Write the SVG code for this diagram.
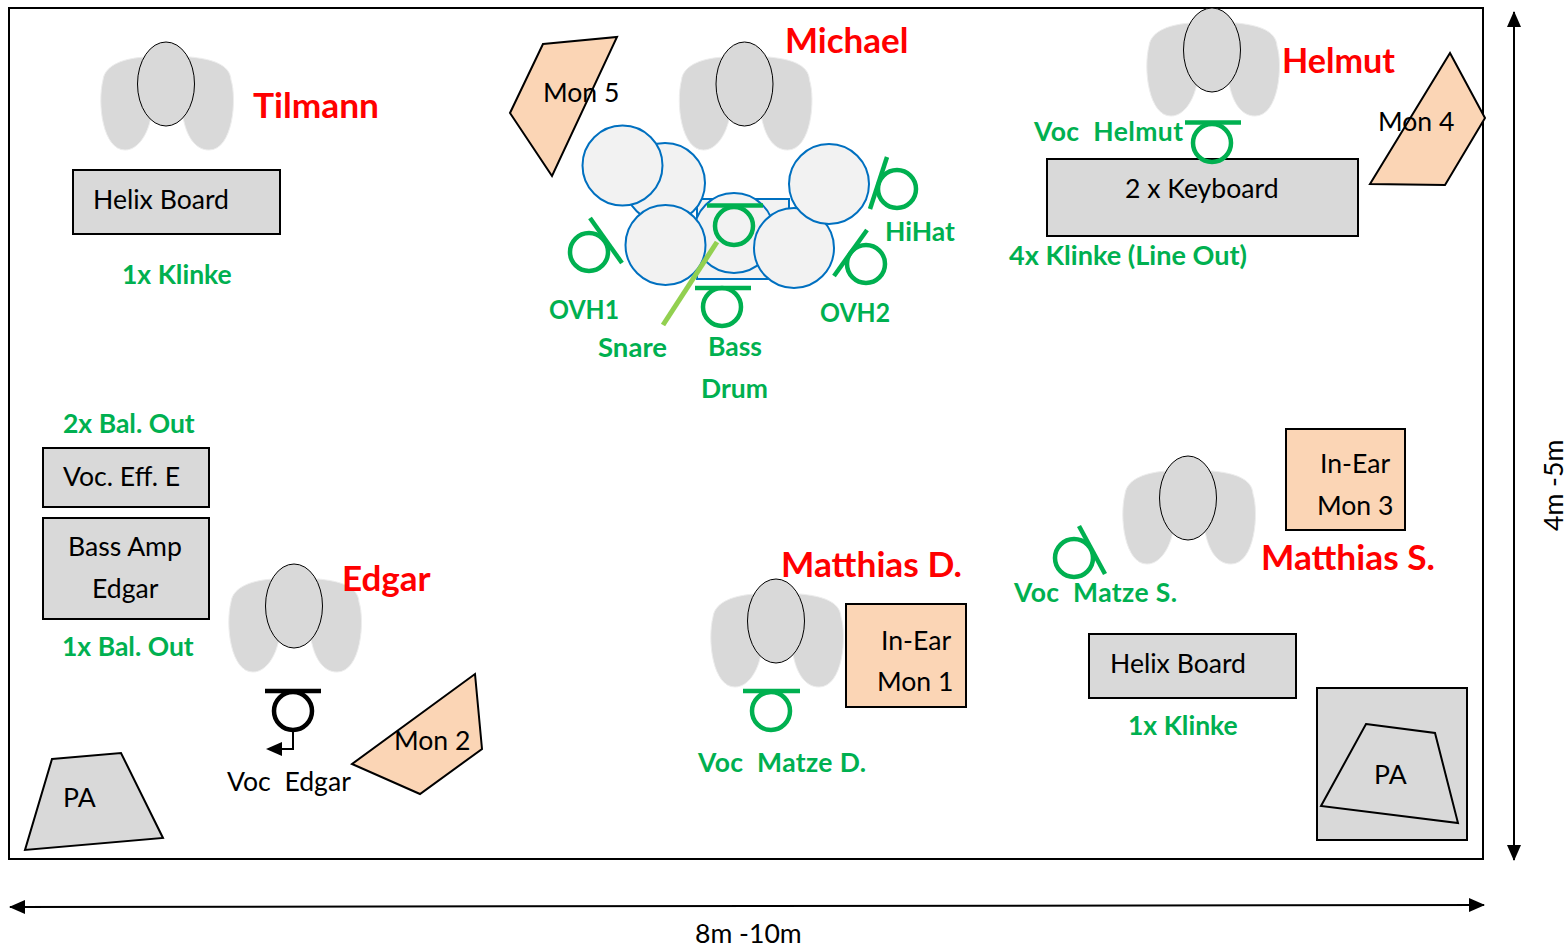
<svg xmlns="http://www.w3.org/2000/svg" width="1568" height="950" viewBox="0 0 1568 950">
<style>
text{font-family:"Lato","Liberation Sans",sans-serif;white-space:pre}
.t{font-size:26.6px;fill:#000}
.g{font-size:26.5px;font-weight:700;fill:#00B050}
.r{font-size:35px;font-weight:700;fill:#FF0000}
.box{fill:#D9D9D9;stroke:#000;stroke-width:2}
.mon{fill:#FBD5B5;stroke:#000;stroke-width:2}
.head{fill:#D9D9D9;stroke:#000;stroke-width:1}
.body{fill:#D9D9D9;stroke:#EDEDED;stroke-width:1}
.mic{fill:none;stroke:#00B050;stroke-width:4.5}
.micb{fill:none;stroke:#000;stroke-width:4.5}
.drum{fill:#F2F2F2;stroke:#0070C0;stroke-width:2}
.dim{fill:none;stroke:#000;stroke-width:2}
</style>
<defs>
<g id="person">
<path class="body" d="M-63-4C-61-20-40-26-20-27L24-27C45-25 64-20 65-4C71 15 67 66 43 66C28 66 20 50 17 33L-15 33C-18 50-28 66-41 66C-63 66-69 20-63-4Z"/>
<ellipse class="head" cx="0" cy="0" rx="28.500" ry="42"/>
</g>
<marker id="ah" markerUnits="userSpaceOnUse" markerWidth="16" markerHeight="14" refX="15" refY="7" orient="auto-start-reverse"><path d="M0 0L16 7L0 14Z" fill="#000"/></marker>
</defs>
<rect id="stage" x="9" y="8" width="1474" height="851" fill="#fff" stroke="#000" stroke-width="2"/>
<g id="tilmann"><use href="#person" x="166" y="84"/><text class="r" x="253" y="118" textLength="126" lengthAdjust="spacingAndGlyphs">Tilmann</text></g>
<g id="helix-board-1"><rect class="box" x="73" y="170" width="207" height="64"/><text class="t" x="93" y="209">Helix Board</text><text class="g" x="122" y="284">1x Klinke</text></g>
<g id="michael"><use href="#person" x="744.500" y="84"/><text class="r" x="785" y="53">Michael</text></g>
<g id="mon5"><polygon class="mon" points="543,44 617,37 552,176 510,113"/><text class="t" x="543" y="102">Mon 5</text></g>
<g id="drums">
<rect class="drum" x="697" y="199" width="92" height="80"/>
<circle class="drum" cx="665" cy="183" r="40"/>
<circle class="drum" cx="622.500" cy="165.500" r="40"/>
<circle class="drum" cx="734" cy="233" r="40"/>
<circle class="drum" cx="665.500" cy="245" r="40"/>
<circle class="drum" cx="794" cy="248" r="40"/>
<circle class="drum" cx="829" cy="184" r="40"/>
</g>
<g id="mic-ovh1"><path class="mic" d="M590 218L622 263"/><circle class="mic" cx="589" cy="252" r="19"/><text class="g" x="549" y="319" textLength="70" lengthAdjust="spacingAndGlyphs">OVH1</text></g>
<g id="mic-hihat"><path class="mic" d="M887 157L870 209"/><circle class="mic" cx="897" cy="189" r="19"/><text class="g" x="885" y="241">HiHat</text></g>
<g id="mic-ovh2"><path class="mic" d="M867 230L834 276"/><circle class="mic" cx="866" cy="264" r="19"/><text class="g" x="820" y="322" textLength="70" lengthAdjust="spacingAndGlyphs">OVH2</text></g>
<g id="mic-tom"><path class="mic" d="M707 205.500L763 205.500"/><circle class="mic" cx="734" cy="226" r="19"/></g>
<g id="mic-snare"><path d="M717 242L663 325" fill="none" stroke="#92D050" stroke-width="5"/><text class="g" x="598" y="357" textLength="69" lengthAdjust="spacingAndGlyphs">Snare</text></g>
<g id="mic-bass"><path class="mic" d="M695 288L751 288"/><circle class="mic" cx="722" cy="307" r="19"/><text class="g" x="708" y="356">Bass</text><text class="g" x="701" y="398">Drum</text></g>
<g id="helmut"><use href="#person" x="1212" y="50"/><text class="r" x="1282" y="73" textLength="113" lengthAdjust="spacingAndGlyphs">Helmut</text></g>
<g id="keyboard"><rect class="box" x="1047" y="159" width="311" height="77"/><text class="t" x="1125" y="198">2 x Keyboard</text><text class="g" x="1009" y="265" textLength="238" lengthAdjust="spacingAndGlyphs">4x Klinke (Line Out)</text></g>
<g id="mic-helmut"><path class="mic" d="M1185 122.500L1241 122.500"/><circle class="mic" cx="1212" cy="143" r="19"/><text class="g" x="1034" y="141" textLength="149" lengthAdjust="spacing">Voc  Helmut</text></g>
<g id="mon4"><polygon class="mon" points="1450,53 1485,118 1445,185 1370,184"/><text class="t" x="1378" y="131">Mon 4</text></g>
<g id="voc-eff"><rect class="box" x="43" y="448" width="166" height="59"/><text class="t" x="63" y="486">Voc. Eff. E</text><text class="g" x="63" y="433">2x Bal. Out</text></g>
<g id="bass-amp"><rect class="box" x="43" y="518" width="166" height="101"/><text class="t" x="68" y="556">Bass Amp</text><text class="t" x="92" y="598">Edgar</text><text class="g" x="62" y="656">1x Bal. Out</text></g>
<g id="edgar"><use href="#person" x="294" y="606"/><text class="r" x="342" y="591">Edgar</text></g>
<g id="mic-edgar"><path class="micb" d="M265 691L321 691"/><circle class="micb" cx="293" cy="711" r="19"/><text class="t" x="227" y="791">Voc  Edgar</text></g>
<g id="mon2"><polygon class="mon" points="475,674 482,749 420,794 352,764"/><text class="t" x="394" y="750">Mon 2</text></g>
<g id="pa-left"><polygon class="box" points="52,759 121,753 163,838 25,850"/><text class="t" x="63" y="807">PA</text></g>
<g id="matthias-d"><use href="#person" x="776" y="621"/><text class="r" x="781" y="577" textLength="181" lengthAdjust="spacingAndGlyphs">Matthias D.</text></g>
<g id="mon1"><rect class="mon" x="846" y="604" width="120" height="103"/><text class="t" x="881" y="650">In-Ear</text><text class="t" x="877" y="691">Mon 1</text></g>
<g id="mic-matze-d"><path class="mic" d="M743 691L800 691"/><circle class="mic" cx="771" cy="711" r="19"/><text class="g" x="698" y="772" textLength="168" lengthAdjust="spacing">Voc  Matze D.</text></g>
<g id="matthias-s"><use href="#person" x="1188" y="498"/><text class="r" x="1261" y="570" textLength="174" lengthAdjust="spacingAndGlyphs">Matthias S.</text></g>
<g id="mon3"><rect class="mon" x="1286" y="429" width="119" height="101"/><text class="t" x="1320" y="473">In-Ear</text><text class="t" x="1317" y="515">Mon 3</text></g>
<g id="mic-matze-s"><path class="mic" d="M1079 526L1105 574"/><circle class="mic" cx="1074" cy="558" r="19"/><text class="g" x="1014" y="602" textLength="163" lengthAdjust="spacing">Voc  Matze S.</text></g>
<g id="helix-board-2"><rect class="box" x="1089" y="634" width="207" height="64"/><text class="t" x="1110" y="673">Helix Board</text><text class="g" x="1128" y="735">1x Klinke</text></g>
<g id="pa-right"><rect class="box" x="1317" y="688" width="150" height="152"/><polygon class="box" points="1366,724 1435,733 1458,823 1321,806"/><text class="t" x="1374" y="784">PA</text></g>
<g id="connectors">
<path d="M293 730L293 749L281 749" fill="none" stroke="#000" stroke-width="2"/>
<polygon points="266,749 282,742 282,756" fill="#000"/>
<path class="dim" d="M1514 12L1514 860" marker-start="url(#ah)" marker-end="url(#ah)"/>
<path class="dim" d="M10 907L1484 905" marker-start="url(#ah)" marker-end="url(#ah)"/>
</g>
<text class="t" x="695" y="943">8m -10m</text>
<text class="t" transform="translate(1563,531) rotate(-90)">4m -5m</text>
</svg>
